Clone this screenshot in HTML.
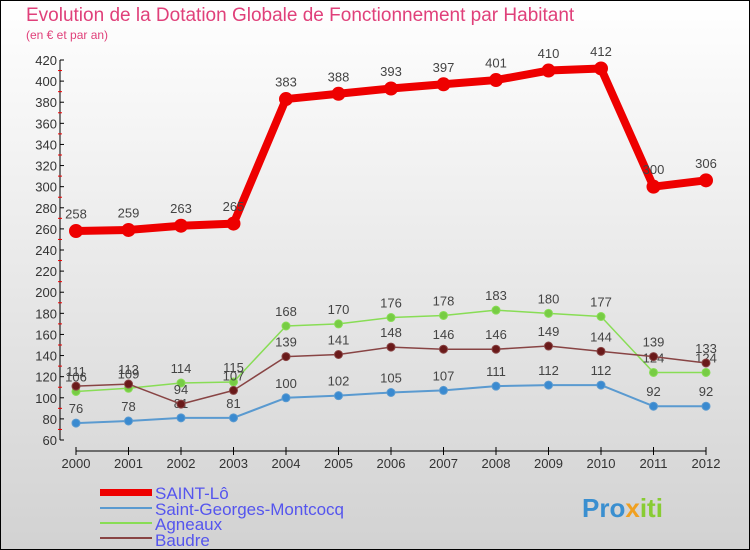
<!DOCTYPE html>
<html><head><meta charset="utf-8"><style>
body{margin:0}
#c{position:relative;width:750px;height:550px;overflow:hidden;font-family:"Liberation Sans","DejaVu Sans",sans-serif}
</style></head><body>
<div id="c">
<svg id="s" width="750" height="550" xmlns="http://www.w3.org/2000/svg">
<defs><linearGradient id="bg" x1="0" y1="0" x2="0" y2="1"><stop offset="0" stop-color="#ffffff"/><stop offset="1" stop-color="#d2d2d2"/></linearGradient></defs>
<rect x="0.5" y="0.5" width="749" height="549" fill="url(#bg)" stroke="#000"/>
<text x="26" y="21" font-size="19" fill="#e0407a">Evolution de la Dotation Globale de Fonctionnement par Habitant</text>
<text x="26" y="39" font-size="12" fill="#e0407a">(en € et par an)</text>
<g id="axes"></g><g id="series"></g>
<g font-size="17" fill="#5555ee">
<rect x="100" y="489" width="52" height="7" fill="#e00"/>
<text x="155" y="499">SAINT-Lô</text>
<rect x="100" y="507" width="52" height="2" fill="#5a9ad0"/>
<text x="155" y="515">Saint-Georges-Montcocq</text>
<rect x="100" y="522" width="52" height="2" fill="#88dd55"/>
<text x="155" y="530">Agneaux</text>
<rect x="100" y="537" width="52" height="2" fill="#884444"/>
<text x="155" y="546">Baudre</text>
</g>
<text x="582" y="517" font-size="26" font-weight="bold" fill="#3a8fd0">Pro<tspan fill="#f0a020">x</tspan><tspan fill="#88cc33">iti</tspan></text>
</svg></div>
<script>
const years=[2000,2001,2002,2003,2004,2005,2006,2007,2008,2009,2010,2011,2012];
const saintLo=[258,259,263,265,383,388,393,397,401,410,412,300,306];
const saintGeorges=[76,78,81,81,100,102,105,107,111,112,112,92,92];
const agneaux=[106,109,114,115,168,170,176,178,183,180,177,124,124];
const baudre=[111,113,94,107,139,141,148,146,146,149,144,139,133];
const yTicks=[60,80,100,120,140,160,180,200,220,240,260,280,300,320,340,360,380,400,420];
const NS='http://www.w3.org/2000/svg';
const X=i=>76+i*52.5, Y=v=>440-(v-60)*380/360;
function mk(t,a,p){const e=document.createElementNS(NS,t);for(const k in a)e.setAttribute(k,a[k]);p.appendChild(e);return e;}
const ax=document.getElementById('axes');
let l=mk('line',{x1:60,y1:Y(420),x2:60,y2:Y(60),stroke:'#000'},ax);


yTicks.forEach((v,i)=>{
 mk('line',{x1:60,x2:64,y1:Y(v),y2:Y(v),stroke:'#000'},ax);
 if(i<yTicks.length-1)mk('line',{x1:58,x2:62,y1:Y(v+10),y2:Y(v+10),stroke:'#e00'},ax);
 const t=mk('text',{x:57,y:Y(v)+5,'text-anchor':'end','font-size':13,fill:'#333'},ax);
 t.textContent=v;
 
 
});
l=mk('line',{x1:X(0),y1:451,x2:X(12),y2:451,stroke:'#000'},ax);


years.forEach((y,i)=>{
 mk('line',{x1:X(i),x2:X(i),y1:447,y2:455,stroke:'#000'},ax);
 const t=mk('text',{x:X(i),y:468,'text-anchor':'middle','font-size':13,fill:'#333'},ax);
 t.textContent=y;
 
 
});
const sg=document.getElementById('series');
function draw(data,name,color,w,r,dot){
 const g=mk('g',{},sg);
 
 
 const p=mk('polyline',{points:data.map((v,i)=>X(i)+','+Y(v)).join(' '),fill:'none',stroke:color,'stroke-width':w,'stroke-linejoin':'round'},g);
 
 
 data.forEach((v,i)=>{
  const c=mk('circle',{cx:X(i),cy:Y(v),r:r,fill:dot,stroke:color,'stroke-width':1},g);
  
  
  const t=mk('text',{x:X(i),y:Y(v)-(r+6),'text-anchor':'middle','font-size':13,fill:'#444'},g);
  t.textContent=v;
  
  
 });
}
draw(saintGeorges,'saint-georges-series','#5a9ad0',2,4,'#3a8ad0');
draw(agneaux,'agneaux-series','#88dd55',1.5,4,'#77cc44');
draw(baudre,'baudre-series','#884444',1.5,4,'#6a1a1a');
draw(saintLo,'saint-lo-series','#ee0000',8,6.5,'#ee0000');
</script>
</body></html>
